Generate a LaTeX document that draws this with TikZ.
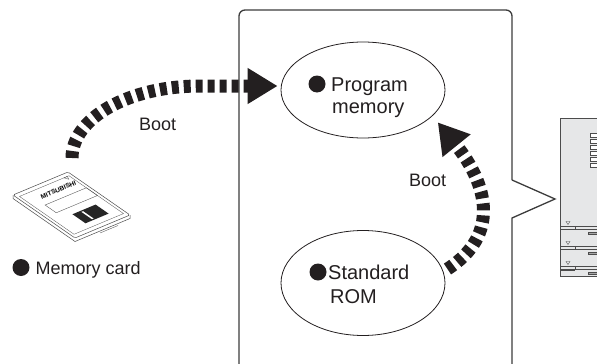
\documentclass[tikz,border=0pt]{standalone}
\usepackage{fontspec}
\setmainfont{Liberation Sans}
\usetikzlibrary{arrows.meta,shapes.geometric}
\definecolor{ink}{HTML}{231F20}
\definecolor{frame}{HTML}{3C3C3C}
\definecolor{panel}{HTML}{E6E7E8}
\begin{document}
\begin{tikzpicture}[x=1pt,y=-1pt,
  memcell/.style={draw=ink, line width=0.8pt, ellipse, minimum width=164pt, minimum height=96pt, inner sep=0},
  lbl/.style={anchor=base west, inner sep=0, text=ink, font=\fontsize{20}{23}\selectfont},
  bootlbl/.style={anchor=base west, inner sep=0, text=ink, font=\fontsize{18}{21}\selectfont},
  dot/.style={circle, fill=ink, inner sep=0, minimum size=17pt},
  bootarrow/.style={draw=ink, line width=13pt, dash pattern=on 7pt off 5pt, -{Triangle[length=30pt,width=34pt]}},
  cardline/.style={draw=black!70, line width=0.5pt},
  modline/.style={draw=black!70, line width=0.5pt},
]
\useasboundingbox (0,0) rectangle (597,364);

% CPU frame with callout pointer
\draw[frame, line width=1.3pt, rounded corners=6pt] (239,370) -- (239,10) -- (512,10) -- (512,180);
\draw[frame, line width=1.3pt] (512,180) -- (555,199) -- (512,218) -- (512,370);

% memory areas
\node[memcell] (pm) at (363,90) {};
\node[memcell, minimum height=105pt] (rom) at (363,283) {};
\node[dot] (pmdot) at (317,84) {};
\node[lbl] (pmline1) at (331,91) {Program};
\node[lbl] (pmline2) at (332,113) {memory};
\node[dot] (romdot) at (318,272) {};
\node[lbl] (romline1) at (328,279) {Standard};
\node[lbl] (romline2) at (330,303) {ROM};

% memory card (slab seen in perspective)
\draw[cardline, fill=white] (13,195) -- (13,198.5) -- (75,241.5) -- (130,218.5) -- (130,215);
\begin{scope}[shift={(13,195)}, x={(55pt,23pt)}, y={(62pt,-43pt)}]
  \draw[cardline, fill=white, rounded corners=1.5pt] (0,0) -- (1,0) -- (1,1) -- (0,1) -- cycle;
  \draw[cardline, line width=0.3pt] (0.05,0.06) -- (0.95,0.06) -- (0.95,0.94) -- (0.05,0.94) -- cycle;
  \draw[cardline, line width=0.35pt] (0.2,0.34) -- (0.95,0.34) -- (0.95,0.52) -- (0.2,0.52) -- cycle;
  \fill[black!85] (0.36,0.64) -- (0.78,0.64) -- (0.78,0.85) -- (0.36,0.85) -- cycle;
  \fill[white] (0.5,0.66) -- (0.53,0.66) -- (0.53,0.83) -- (0.5,0.83) -- cycle;
  \draw[cardline, line width=0.3pt] (0.86,0.06) -- (0.92,0.06) -- (0.89,0.11) -- cycle;
  \node[rotate=22.7, inner sep=0, font=\bfseries\fontsize{6.5}{7}\selectfont] (cardbrand) at (0.6,0.2) {MITSUBISHI};
\end{scope}
\draw[cardline, line width=0.35pt] (100,233) -- (118,225.5);
\node[dot] (carddot) at (21,267.5) {};
\node[bootlbl] (cardlbl) at (35.5,274) {Memory card};

% CPU module
\draw[modline, fill=panel] (560,118) rectangle (600,276);
\foreach \k in {0,...,5}
  \draw[modline, fill=white] (590,133+6*\k) rectangle ++(9,4.5);
\draw[modline] (595,118) -- (600,118);
\foreach \yy in {226,246,266} {
  \draw[modline] (560,\yy) -- (600,\yy);
  \draw[modline] (560,\yy+3) -- (600,\yy+3);
  \draw[modline] (575,\yy) -- (575,\yy+3);
  \draw[modline, line width=0.4pt] (566,\yy-4.5) -- (570,\yy-4.5) -- (568,\yy-1.5) -- cycle;
  \draw[modline, fill=black!35] (588,\yy+6) rectangle (600,\yy+8);
}
\draw[modline, fill=black!35] (588,252) rectangle (600,254);
\draw[modline] (560,270) -- (575,270);

% boot transfers
\coordinate (cardtop) at (72,158);
\coordinate (cardbend) at (200,86);
\draw[bootarrow] (cardtop) .. controls +(0,-40) and +(-71,0) .. (cardbend) -- ([shift={(-3,-4)}]pm.west);
\node[bootlbl] (boot1) at (139,130) {Boot};
\draw[bootarrow] ([xshift=5pt]rom.10) .. controls +(53,-34) and +(50,62) .. ([shift={(8,4)}]pm.-23);
\node[bootlbl] (boot2) at (409,186) {Boot};
\end{tikzpicture}
\end{document}
